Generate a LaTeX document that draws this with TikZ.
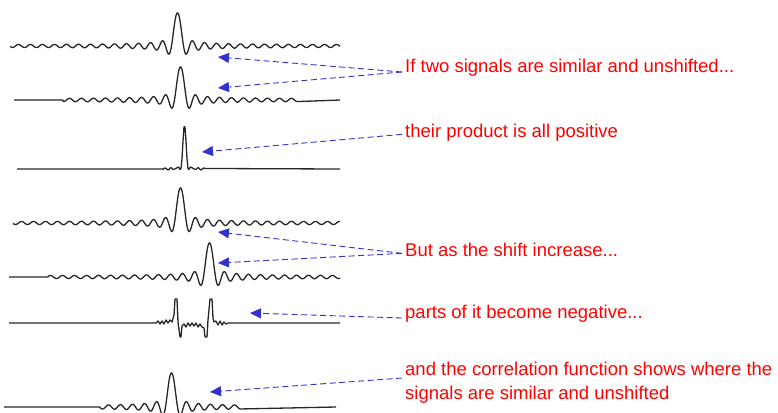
\documentclass[tikz,border=0pt]{standalone}
\usepackage{xcolor}
\usepackage{fontspec}
\setmainfont{Liberation Sans}
\usepackage{tikz}
\usetikzlibrary{arrows.meta}
\definecolor{noteRed}{RGB}{255,0,0}
\definecolor{pointerBlue}{RGB}{51,51,204}

\begin{document}
\begin{tikzpicture}[x=1pt, y=-1pt]
\tikzset{
    trace/.style={
        line width=1.3pt, draw=black!85, line join=round
    },
    note/.style={
        text=noteRed, inner sep=0pt, anchor=base west,
        font=\fontsize{18.5}{24}\selectfont
    },
    pointer/.style={
        draw=pointerBlue, line width=0.9pt, dash pattern=on 6pt off 3.5pt,
        -{Triangle[length=11pt, width=10pt]}
    },
    declare function={sinc(\u)=sin(\u r)/\u; rip(\u)=sin(abs(\u) r);}
}
\useasboundingbox (0,0) rectangle (778,412);

% Semnalele
\draw[trace] plot[domain=10:340, samples=331]
    (\x, {46 - 33*sinc(pi*(\x-177.5)/6) - 1.1*rip(pi*(\x-177.5)/6)});
\draw[trace] (14,100) -- (63,100) -- plot[domain=63:297, samples=235]
    (\x, {100 - 33*sinc(pi*(\x-180.5)/6) - 1.1*rip(pi*(\x-180.5)/6)}) -- (340,100);
\draw[trace] (17,169) -- (163,169) -- plot[domain=163:205, samples=43]
    (\x, {169 - 44*sinc(pi*(\x-184.5)/4)^2 - 1*rip(pi*(\x-184.5)/3)}) -- (340,169);
\draw[trace] plot[domain=13:340, samples=328]
    (\x, {223 - 35*sinc(pi*(\x-180.5)/6) - 1.1*rip(pi*(\x-180.5)/6)});
\draw[trace] (9,277) -- (48,277) -- plot[domain=48:340, samples=293]
    (\x, {277 - 34*sinc(pi*(\x-209.5)/6) - 1.1*rip(pi*(\x-209.5)/6)});
\draw[trace] (9,323) -- (156,323) -- plot coordinates {
    (158,321) (160,324) (162,321) (164,324) (166,320) (168,323) (170,320)
    (172,322) (174,315) (175,299) (177,299) (178,322) (180,337) (181,337)
    (182,326) (184,324) (186,327) (188,323) (190,326) (192,323) (194,326)
    (196,323) (198,327) (200,324) (202,327) (204,328) (205,337) (207,337)
    (208,320) (210,299) (212,299) (213,318) (214,322) (216,321) (218,325)
    (220,321) (222,325) (224,322) (226,324) (228,323)} -- (340,323);
\draw[trace] (4,407) -- (100,407) -- plot[domain=100:240, samples=141]
    (\x, {407 - 34*sinc(pi*(\x-171.5)/6) - 1.1*rip(pi*(\x-171.5)/6)}) -- (336,407);

% Capete sageti
\coordinate (tipA) at (218,57);
\coordinate (tipB) at (218,88);
\coordinate (tipC) at (202,152);
\coordinate (tipD) at (218,232);
\coordinate (tipE) at (218,263);
\coordinate (tipF) at (250,313);
\coordinate (tipG) at (210,392);

% Textele
\node[note] (similar)  at (405,72)  {If two signals are similar and unshifted...};
\node[note] (positive) at (405,137) {their product is all positive};
\node[note] (shift)    at (405,256) {But as the shift increase...};
\node[note] (negative) at (405,318) {parts of it become negative...};
\node[note, align=left] (corr) at (405,399)
    {and the correlation function shows where the\\signals are similar and unshifted};

% Sageti
\draw[pointer] ([xshift=-3pt]similar.base west)  -- (tipA);
\draw[pointer] ([xshift=-3pt]similar.base west)  -- (tipB);
\draw[pointer] ([xshift=-3pt]positive.mid west)  -- (tipC);
\draw[pointer] ([xshift=-3pt]shift.mid west)     -- (tipD);
\draw[pointer] ([xshift=-3pt]shift.mid west)     -- (tipE);
\draw[pointer] ([xshift=-3pt]negative.base west) -- (tipF);
\draw[pointer] ([xshift=-3pt, yshift=21pt]corr.base west) -- (tipG);
\end{tikzpicture}
\end{document}
